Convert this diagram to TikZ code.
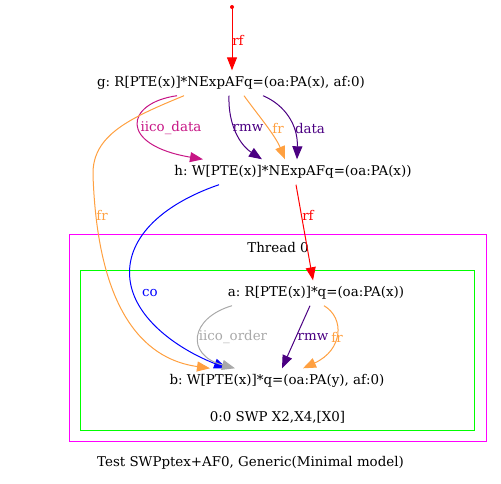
\documentclass[tikz,border=0pt]{standalone}
\usepackage{fontspec}
\setmainfont{DejaVu Serif}
\usetikzlibrary{arrows.meta}
\definecolor{cOrange}{HTML}{FFA040}
\definecolor{cIndigo}{HTML}{4B0082}
\definecolor{cViolet}{HTML}{C71585}
\definecolor{cGray}{HTML}{A9A9A9}
\definecolor{cMag}{HTML}{FF00FF}
\definecolor{cGreen}{HTML}{00FF00}
\frenchspacing
\begin{document}
\begin{tikzpicture}[x=1pt,y=-1pt,
  every node/.style={font=\fontsize{13.4}{15}\selectfont},
  ev/.style={inner sep=0pt, minimum height=25pt},
  lab/.style={inner sep=0pt},
  edge/.style={line width=1pt, -{Triangle[length=13pt,width=10pt]}},
  box/.style={line width=1pt}]
\useasboundingbox (0,0) rectangle (501,483);
% clusters
\draw[box, cMag] (69,234) rectangle (486,441);
\draw[box, cGreen] (80,270) rectangle (474,430);
\node[lab] (t0) at (278,247) {Thread 0};
\node[lab] (ins) at (277.5,417) {0:0 SWP X2,X4,[X0]};
\node[lab] (cap) at (250.5,463) {Test SWPptex+AF0, Generic(Minimal model)};
% events
\node[ev] (g) at (231,83) {g: R[PTE(x)]*NExpAFq=(oa:PA(x), af:0)};
\node[ev] (h) at (293,172) {h: W[PTE(x)]*NExpAFq=(oa:PA(x))};
\node[ev] (a) at (316,293) {a: R[PTE(x)]*q=(oa:PA(x))};
\node[ev] (b) at (277,381) {b: W[PTE(x)]*q=(oa:PA(y), af:0)};
\fill[red] (232,7) circle (2pt) coordinate (init);
% edges
\draw[edge, red] (init) -- ([xshift=1pt]g.north);
\node[lab, red] at (238,40) {rf};
\draw[edge, cViolet] ([xshift=-54pt]g.south) .. controls (125,103) and (118,145) .. ([xshift=-90pt]h.north);
\node[lab, cViolet] at (171,128) {iico\_data};
\draw[edge, cIndigo] ([xshift=-2pt]g.south) .. controls (228,125) and (240,145) .. ([xshift=-31pt]h.north);
\node[lab, cIndigo] at (248,128) {rmw};
\draw[edge, cOrange] ([xshift=13pt]g.south) .. controls (258,115) and (275,135) .. ([xshift=-8pt]h.north);
\node[lab, cOrange] at (278,128) {fr};
\draw[edge, cIndigo] ([xshift=32pt]g.south) .. controls (285,105) and (298,125) .. ([xshift=4pt]h.north);
\node[lab, cIndigo] at (310,128) {data};
\draw[edge, cOrange] ([xshift=-47pt]g.south) .. controls (130,118) and (92,135) .. (93,175)
  .. controls (98,320) and (150,360) .. ([xshift=-67pt]b.north);
\node[lab, cOrange] at (102,215) {fr};
\draw[edge, blue] ([xshift=-74pt]h.south) .. controls (160,205) and (125,240) .. (130,280)
  .. controls (135,320) and (180,350) .. ([xshift=-50pt]b.north);
\node[lab, blue] at (150,293) {co};
\draw[edge, red] ([xshift=3pt]h.south) -- ([xshift=-3pt]a.north);
\node[lab, red] at (308,215) {rf};
\draw[edge, cGray] ([xshift=-84pt]a.south) .. controls (190,318) and (185,355) .. ([xshift=-42pt]b.north);
\node[lab, cGray] at (233,337) {iico\_order};
\draw[edge, cIndigo] ([xshift=-6pt]a.south) -- ([xshift=5pt]b.north);
\node[lab, cIndigo] at (313,337) {rmw};
\draw[edge, cOrange] ([xshift=8pt]a.south) .. controls (345,318) and (343,350) .. ([xshift=26pt]b.north);
\node[lab, cOrange] at (337,337) {fr};
\end{tikzpicture}
\end{document}
